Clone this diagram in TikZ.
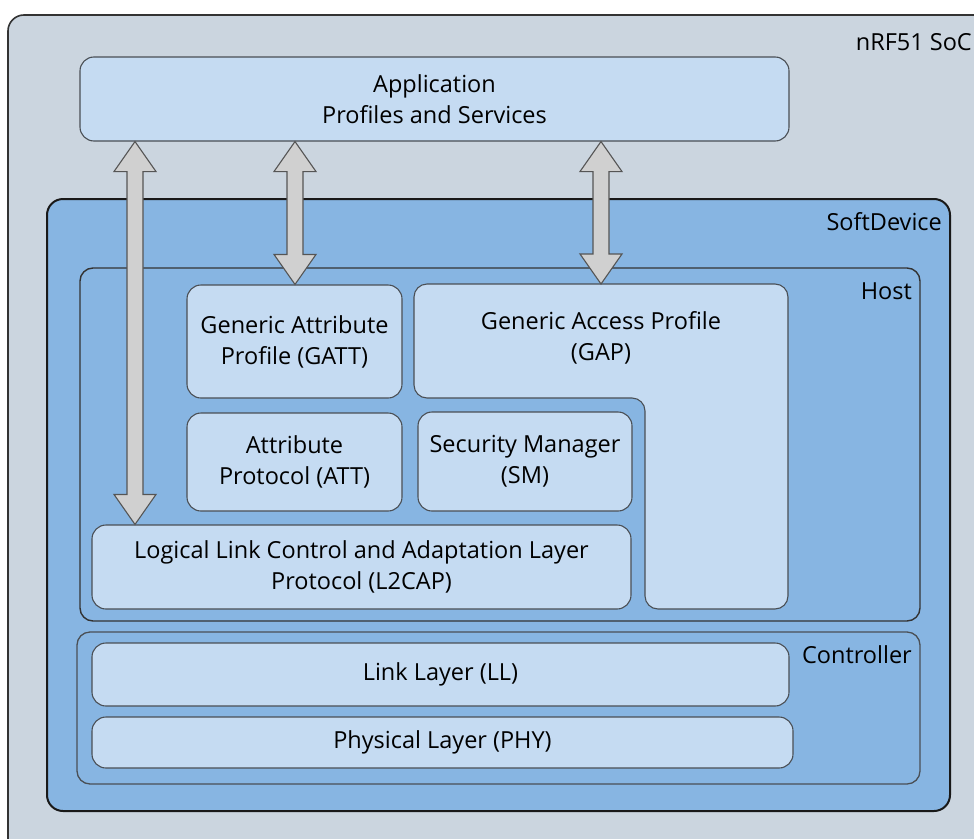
\documentclass[tikz,border=0pt]{standalone}
\usepackage{fontspec}
\setmainfont{Open Sans}
\usetikzlibrary{calc}
\definecolor{socfill}{HTML}{CBD5DF}
\definecolor{sdfill}{HTML}{87B5E2}
\definecolor{boxfill}{HTML}{C5DBF2}
\definecolor{boxline}{HTML}{4A4F55}
\definecolor{arrowfill}{HTML}{D0D0D0}
\definecolor{arrowline}{HTML}{555555}
\tikzset{
  layer/.style={draw=boxline, fill=boxfill, line width=1.1pt, rounded corners=14pt,
    align=center, inner sep=0pt, font=\fontsize{23.5}{31}\selectfont},
  tag/.style={font=\fontsize{23.5}{28}\selectfont, inner sep=0pt},
  fatarrow/.style={draw=arrowline, fill=arrowfill, line width=1.1pt, line join=miter},
}
% double-headed block arrow between two named points (#1 top, #2 bottom)
\newcommand\blockarrow[2]{%
  \draw[fatarrow] (#1) -- ($(#1)+(21,30)$) -- ($(#1)+(8,30)$) -- ($(#2)+(8,-30)$)
    -- ($(#2)+(21,-30)$) -- (#2) -- ($(#2)+(-21,-30)$) -- ($(#2)+(-8,-30)$)
    -- ($(#1)+(-8,30)$) -- ($(#1)+(-21,30)$) -- cycle;}
\begin{document}
\begin{tikzpicture}[x=1pt,y=-1pt]
\useasboundingbox (0,0) rectangle (974,838);
\clip (0,0) rectangle (974,838);
\fill[white] (0,0) rectangle (974,838);

% containers
\draw[fill=socfill, draw=black!80, line width=1.6pt, rounded corners=16pt] (8,15) rectangle (1000,870);
\node[tag, anchor=east] (soclabel) at (972,42) {nRF51 SoC};

\draw[fill=sdfill, draw=black!90, line width=2pt, rounded corners=16pt] (47,199) rectangle (950,811);
\node[tag, anchor=east] (sdlabel) at (942,222) {SoftDevice};

\draw[fill=sdfill, draw=black!80, line width=1.4pt, rounded corners=13pt] (80,268) rectangle (920,621);
\node[tag, anchor=east] (hostlabel) at (912,291) {Host};

\draw[fill=sdfill, draw=boxline, line width=1.3pt, rounded corners=13pt] (77,632) rectangle (920,784);
\node[tag, anchor=east] (ctrllabel) at (912,655) {Controller};

% application
\node[layer, minimum width=709pt, minimum height=84pt] (app) at (434.5,99) {Application\\Profiles and Services};

% host layers
\node[layer, minimum width=215pt, minimum height=113pt] (gatt) at (294.5,341.5) {Generic Attribute\\Profile (GATT)};
\node[layer, minimum width=215pt, minimum height=98pt] (att) at (294.5,462) {Attribute\\Protocol (ATT)};
\node[layer, minimum width=214pt, minimum height=99pt] (sm) at (525,461.5) {Security Manager\\(SM)};
\node[layer, minimum width=539pt, minimum height=84pt] (l2cap) at (361.5,567) {Logical Link Control and Adaptation Layer\\Protocol (L2CAP)};

% GAP: L-shaped block
\draw[draw=boxline, fill=boxfill, line width=1.1pt, rounded corners=13pt]
  (414,284) -- (788,284) -- (788,609) -- (645,609) -- (645,398) -- (414,398) -- cycle;
\node[align=center, inner sep=0pt, font=\fontsize{23.5}{31}\selectfont] (gap) at (601,338) {Generic Access Profile\\(GAP)};
\coordinate (gaptop) at (601,284);

% controller layers
\node[layer, minimum width=697pt, minimum height=63pt] (ll) at (440.5,674.5) {Link Layer (LL)};
\node[layer, minimum width=701pt, minimum height=51pt] (phy) at (442.5,742.5) {Physical Layer (PHY)};

% interface arrows
\coordinate (ax1) at (135,0);
\coordinate (ax2) at (295,0);
\coordinate (a1t) at (app.south -| ax1);
\coordinate (a1b) at (l2cap.north -| ax1);
\coordinate (a2t) at (app.south -| ax2);
\coordinate (a2b) at (gatt.north -| ax2);
\coordinate (a3t) at (app.south -| gaptop);
\blockarrow{a1t}{a1b}
\blockarrow{a2t}{a2b}
\blockarrow{a3t}{gaptop}
\end{tikzpicture}
\end{document}
